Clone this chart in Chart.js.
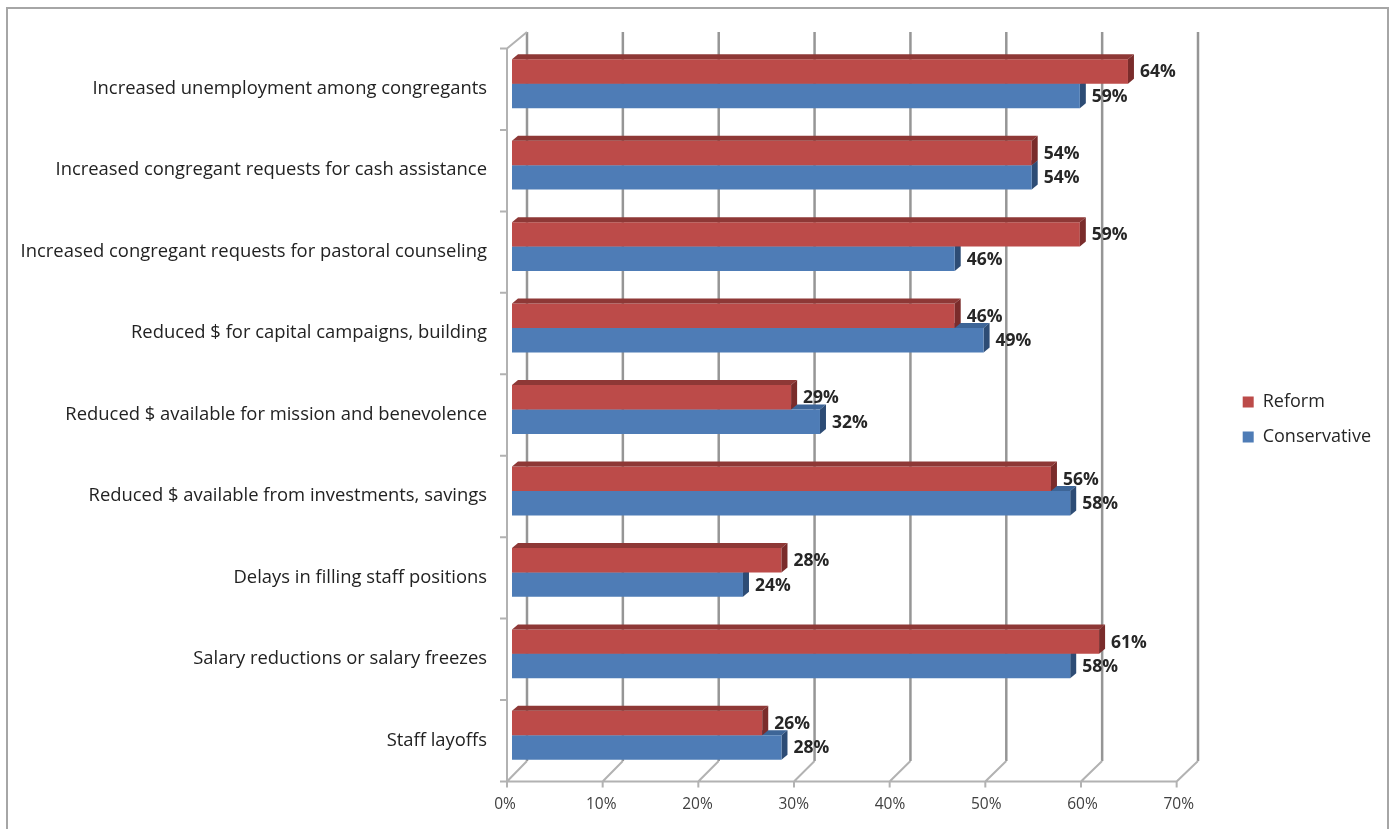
<!DOCTYPE html>
<html>
<head>
<meta charset="utf-8">
<script src="https://cdn.jsdelivr.net/npm/chart.js@4.4.1/dist/chart.umd.min.js"></script>
<style>
html,body{margin:0;padding:0;background:#fff}
</style>
</head>
<body>
<canvas id="myChart" width="1392" height="829"></canvas>
<script>
const categories = [
"Increased unemployment among congregants",
"Increased congregant requests for cash assistance",
"Increased congregant requests for pastoral counseling",
"Reduced $ for capital campaigns, building",
"Reduced $ available for mission and benevolence",
"Reduced $ available from investments, savings",
"Delays in filling staff positions",
"Salary reductions or salary freezes",
"Staff layoffs"
]

const reform = [64,54,59,46,29,56,28,61,26]

const conservative = [59,54,46,49,32,58,24,58,28]

const xTicks = [0,10,20,30,40,50,60,70]

const FONT = "Open Sans"

// depth of the bar boxes
const D = 6
const E = 5

function faces(ctx, bar, capColor, sideColor){
const top = bar.y - bar.height/2
const bot = bar.y + bar.height/2
const L = bar.base
const R = bar.x
ctx.fillStyle = capColor
ctx.beginPath()
ctx.moveTo(L, top)
ctx.lineTo(L+D, top-E)
ctx.lineTo(R+D, top-E)
ctx.lineTo(R, top)
ctx.closePath()
ctx.fill()
ctx.fillStyle = sideColor
ctx.beginPath()
ctx.moveTo(R, top)
ctx.lineTo(R+D, top-E)
ctx.lineTo(R+D, bot-E)
ctx.lineTo(R, bot)
ctx.closePath()
ctx.fill()
}

const box3d = {
id:"box3d",
beforeDraw(chart){
const ctx = chart.ctx
const a = chart.chartArea
const x = chart.scales.x
ctx.save()
// outer frame
ctx.strokeStyle = "#a6a6a6"
ctx.lineWidth = 2
ctx.strokeRect(7, 8, 1381, 840)

const front = v => a.left - 5 + (x.getPixelForValue(v) - a.left) * 0.994
const back = v => a.left + 15 + (x.getPixelForValue(v) - a.left) * 0.996
const fTop = a.top + 5.5, fBot = a.bottom + 5.5
const bTop = a.top - 11, bBot = a.bottom - 15

// back wall gridlines
ctx.strokeStyle = "#969696"
ctx.lineWidth = 2.5
xTicks.forEach(v=>{
ctx.beginPath()
ctx.moveTo(back(v), bTop)
ctx.lineTo(back(v), bBot)
ctx.stroke()
})

// floor and left wall
ctx.strokeStyle = "#b2b2b2"
ctx.lineWidth = 2
ctx.beginPath()
ctx.moveTo(front(0), fTop)
ctx.lineTo(front(0), fBot)
ctx.lineTo(front(70), fBot)
ctx.moveTo(front(0), fTop)
ctx.lineTo(back(0), bTop)
xTicks.forEach(v=>{
ctx.moveTo(front(v), fBot + 6)
ctx.lineTo(front(v), fBot)
ctx.lineTo(back(v), bBot)
})
const band = (fBot - fTop) / categories.length
for(let i=0;i<=categories.length;i++){
ctx.moveTo(front(0) - 7, fTop + i*band)
ctx.lineTo(front(0), fTop + i*band)
}
ctx.stroke()
ctx.restore()
},
beforeDatasetsDraw(chart){
const ctx = chart.ctx
ctx.save()
chart.getDatasetMeta(1).data.forEach(bar=>faces(ctx, bar, "#3d6597", "#2d4c75"))
ctx.restore()
},
afterDatasetsDraw(chart){
const ctx = chart.ctx
ctx.save()
chart.getDatasetMeta(0).data.forEach(bar=>faces(ctx, bar, "#8e3836", "#7a2c2b"))
ctx.font = "bold 17.5px " + FONT
ctx.fillStyle = "#262626"
ctx.textBaseline = "middle"
;[0,1].forEach(d=>{
const vals = chart.data.datasets[d].data
chart.getDatasetMeta(d).data.forEach((bar,i)=>{
ctx.fillText(vals[i] + "%", bar.x + 12, bar.y + 1)
})
})
ctx.restore()
}
}

// empty boxes that only reserve room in the layout
const spacer = (pos, size) => ({
type:"linear",
position:pos,
display:true,
afterFit(s){ if(pos==="right") s.width = size; else s.height = size },
grid:{display:false, drawTicks:false},
border:{display:false},
ticks:{display:false}
})

new Chart(
document.getElementById("myChart"),
{
type:"bar",
data:{
labels:categories,
datasets:[
{label:"Reform", data:reform, backgroundColor:"#bc4b49", borderWidth:0},
{label:"Conservative", data:conservative, backgroundColor:"#4e7cb6", borderWidth:0}
]
},
options:{
indexAxis:"y",
responsive:false,
animation:false,
categoryPercentage:0.6,
barPercentage:1,
layout:{padding:{left:0, top:10, bottom:0, right:11}},
scales:{
x:{
min:0, max:70,
afterBuildTicks(s){ s.ticks = xTicks.map(v=>({value:v})) },
afterFit(s){ s.height = 53 },
grid:{display:false, drawTicks:false},
border:{display:false},
ticks:{
callback:v=>v + "%",
labelOffset:-7,
padding:19,
color:"#404040",
font:{family:FONT, size:15.5}
}
},
y:{
afterFit(s){ s.width = 512 },
grid:{display:false, drawTicks:false},
border:{display:false},
ticks:{
padding:25,
labelOffset:5,
color:"#222",
font:{family:FONT, size:18.4}
}
},
gapRight:spacer("right", 40),
gapTop:spacer("top", 33)
},
plugins:{
tooltip:{enabled:false},
legend:{
position:"right",
labels:{
boxWidth:11,
boxHeight:11,
padding:17,
color:"#262626",
font:{family:FONT, size:18}
}
}
}
},
plugins:[box3d]
}
)
</script>
</body>
</html>
